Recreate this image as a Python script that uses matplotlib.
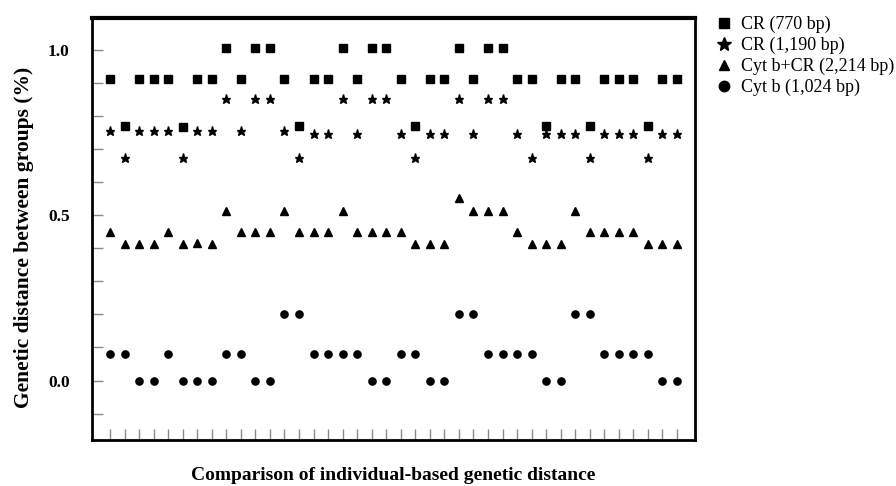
import numpy as np
import matplotlib
matplotlib.use('Agg')
import matplotlib.pyplot as plt
from matplotlib.lines import Line2D

# ### Data: genetic distance (%) for 40 pairwise comparisons
comparison = np.arange(1, 41)

cr_770 = [0.912, 0.771, 0.912, 0.912, 0.912, 0.766, 0.912, 0.912, 1.007, 0.912,
          1.007, 1.007, 0.912, 0.771, 0.912, 0.912, 1.007, 0.912, 1.007, 1.007,
          0.912, 0.771, 0.912, 0.912, 1.007, 0.912, 1.007, 1.007, 0.912, 0.912,
          0.771, 0.912, 0.912, 0.771, 0.912, 0.912, 0.912, 0.771, 0.912, 0.912]

cr_1190 = [0.755, 0.675, 0.755, 0.755, 0.755, 0.675, 0.755, 0.755, 0.851, 0.755,
           0.851, 0.851, 0.755, 0.675, 0.745, 0.745, 0.851, 0.745, 0.851, 0.851,
           0.745, 0.675, 0.745, 0.745, 0.851, 0.745, 0.851, 0.851, 0.745, 0.675,
           0.745, 0.745, 0.745, 0.675, 0.745, 0.745, 0.745, 0.675, 0.745, 0.745]

cytb_cr = [0.449, 0.412, 0.412, 0.412, 0.449, 0.412, 0.415, 0.412, 0.512, 0.449,
           0.449, 0.449, 0.512, 0.449, 0.449, 0.449, 0.512, 0.449, 0.449, 0.449,
           0.449, 0.412, 0.412, 0.412, 0.551, 0.512, 0.512, 0.512, 0.449, 0.412,
           0.412, 0.412, 0.512, 0.449, 0.449, 0.449, 0.449, 0.412, 0.412, 0.412]

cytb = [0.081, 0.081, 0.0, 0.0, 0.081, 0.0, 0.0, 0.0, 0.081, 0.081,
        0.0, 0.0, 0.2, 0.2, 0.081, 0.081, 0.081, 0.081, 0.0, 0.0,
        0.081, 0.081, 0.0, 0.0, 0.2, 0.2, 0.081, 0.081, 0.081, 0.081,
        0.0, 0.0, 0.2, 0.2, 0.081, 0.081, 0.081, 0.081, 0.0, 0.0]

series_labels = ['CR (770 bp)', 'CR (1,190 bp)', 'Cyt b+CR (2,214 bp)', 'Cyt b (1,024 bp)']

# ### Plotting parameters
plt.rcParams['font.family'] = ['Liberation Serif', 'DejaVu Serif']
figure = plt.figure(figsize=(8.96, 4.86), dpi=100)
ax = figure.add_axes([0.1027, 0.0947, 0.673, 0.868])

ax.plot(comparison, cr_770, 's', color='black', markersize=5.2, linestyle='none')
ax.plot(comparison, cr_1190, '*', color='black', markersize=6.5, linestyle='none')
ax.plot(comparison, cytb_cr, '^', color='black', markersize=5.2, linestyle='none')
ax.plot(comparison, cytb, 'o', color='black', markersize=5.2, linestyle='none')

ax.set_xlim(-0.24, 41.24)
ax.set_ylim(-0.18, 1.097)

ax.set_xticks(comparison)
ax.set_xticklabels([])
ax.set_yticks([0.0, 0.5, 1.0])
ax.set_yticklabels(['0.0', '0.5', '1.0'], fontweight='bold', fontsize=12.5)
ax.set_yticks(np.arange(-0.1, 1.05, 0.1), minor=True)
ax.tick_params(axis='both', which='both', direction='in', length=8, width=1,
               color='#8a8a8a')
ax.tick_params(axis='y', which='major', pad=16)

for side in ('left', 'bottom', 'right'):
    ax.spines[side].set_linewidth(2)
ax.spines['top'].set_linewidth(3)

ax.set_ylabel('Genetic distance between groups (%)', fontsize=15.5, fontweight='bold')
ax.yaxis.set_label_coords(-0.097, 0.48)
ax.set_xlabel('Comparison of individual-based genetic distance', fontsize=14,
              fontweight='bold')
ax.xaxis.set_label_coords(0.5, -0.064)

handles = [Line2D([], [], marker='s', color='black', linestyle='none', markersize=6.5),
           Line2D([], [], marker='*', color='black', linestyle='none', markersize=10),
           Line2D([], [], marker='^', color='black', linestyle='none', markersize=7),
           Line2D([], [], marker='o', color='black', linestyle='none', markersize=7.5)]
figure.legend(handles, series_labels, loc='upper left', bbox_to_anchor=(0.798, 0.967),
              frameon=False, fontsize=13, handlelength=1.0, handletextpad=0.45,
              labelspacing=0.2, borderpad=0, borderaxespad=0)

figure.savefig('out.png', dpi=100)
